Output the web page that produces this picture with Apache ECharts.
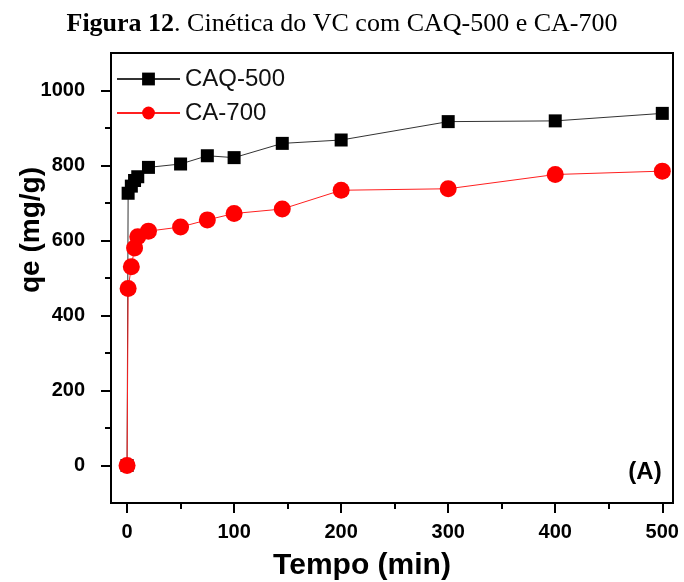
<!DOCTYPE html>
<html>
<head>
<meta charset="utf-8">
<script src="https://cdn.jsdelivr.net/npm/echarts@6/dist/echarts.min.js"></script>
<style>html,body{margin:0;padding:0;background:#fff;}#c{width:684px;height:582px;}</style>
</head>
<body>
<div id="c"></div>
<script>
// ---- data ----
var caqName = 'CAQ-500';
var caName = 'CA-700';
var caqTime = [0, 1, 4, 7, 10, 20, 50, 75, 100, 145, 200, 300, 400, 500];
var caqQe   = [0, 726, 745, 760, 770, 795, 804, 826, 821, 859, 868, 917, 919, 939];
var caTime  = [0, 1, 4, 7, 10, 20, 50, 75, 100, 145, 200, 300, 400, 500];
var caQe    = [0, 472, 530, 580, 610, 625, 636, 655, 672, 684, 734, 738, 776, 785];
var xTickMin = 0, xTickMax = 500, xTickStep = 100;   // labelled ticks 0..500
var yTickMin = 0, yTickMax = 1000, yTickStep = 200;  // labelled ticks 0..1000
var titleBold = 'Figura 12';
var titleRest = '. Cinética do VC com CAQ-500 e CA-700';
var xName = 'Tempo (min)';
var yName = 'qe (mg/g)';
var panelTag = '(A)';

function pairs(xs, ys){ return xs.map(function(x,i){ return [x, ys[i]]; }); }

var FONT = '"Liberation Sans", Arial, sans-serif';
var SERIF = '"Liberation Serif", "Times New Roman", serif';
var chart = echarts.init(document.getElementById('c'), null, {renderer:'canvas'});

// main plot geometry
var G = {left:111, top:53, right:11, bottom:79, w:684, h:582};
var X0 = -15, X1 = 510, Y0 = -100, Y1 = 1100;
var pw = G.w - G.left - G.right, ph = G.h - G.top - G.bottom;
function px(v){ return G.left + (v - X0) / (X1 - X0) * pw; }
function py(v){ return G.h - G.bottom - (v - Y0) / (Y1 - Y0) * ph; }

function tl(){ return {color:'#000', width:2}; }
function lab(margin){
  return {show:true, margin:margin, fontFamily:FONT, fontSize:20, fontWeight:'bold', color:'#000',
          formatter:function(v){ return String(v); }};
}

chart.setOption({
  backgroundColor:'#fff',
  animation:false,
  title:{
    left:'center', top:6,
    text:'{b|' + titleBold + '}{n|' + titleRest + '}',
    textStyle:{fontWeight:'normal', rich:{
      b:{fontFamily:SERIF, fontSize:26, fontWeight:'bold', color:'#000'},
      n:{fontFamily:SERIF, fontSize:26, fontWeight:'normal', color:'#000'}
    }}
  },
  grid:[
    {left:G.left, top:G.top, right:G.right, bottom:G.bottom, show:true, borderColor:'#000', borderWidth:2},
    {left:px(xTickMin), right:G.w - px(xTickMax), top:G.top, bottom:G.bottom, show:false},
    {left:G.left, right:G.right, top:py(yTickMax), bottom:G.h - py(yTickMin), show:false}
  ],
  legend:{
    orient:'vertical', left:111, top:62, itemWidth:63, itemHeight:16, itemGap:10,
    textStyle:{fontFamily:FONT, fontSize:24, color:'#111'},
    data:[caqName, caName]
  },
  xAxis:[
    {type:'value', gridIndex:0, min:X0, max:X1, position:'bottom',
     axisLine:{show:true, onZero:false, lineStyle:{color:'#000', width:2}},
     axisTick:{show:false}, axisLabel:{show:false}, splitLine:{show:false}},
    // labels: axis moved down with offset so its labels sit clear of the ticks
    {type:'value', gridIndex:1, min:xTickMin, max:xTickMax, interval:xTickStep, position:'bottom',
     offset:16, axisLine:{show:false, onZero:false}, axisTick:{show:false},
     axisLabel:lab(3), splitLine:{show:false}},
    {type:'value', gridIndex:2, show:false, min:0, max:1},
    // ticks
    {type:'value', gridIndex:1, min:xTickMin, max:xTickMax, interval:xTickStep, position:'bottom',
     axisLine:{show:false, onZero:false},
     axisTick:{show:true, inside:false, length:10, lineStyle:tl()},
     minorTick:{show:true, splitNumber:2, length:6, lineStyle:tl()},
     axisLabel:{show:false}, splitLine:{show:false}}
  ],
  yAxis:[
    {type:'value', gridIndex:0, min:Y0, max:Y1, position:'left',
     axisLine:{show:true, onZero:false, lineStyle:{color:'#000', width:2}},
     axisTick:{show:false}, axisLabel:{show:false}, splitLine:{show:false}},
    {type:'value', gridIndex:1, show:false, min:0, max:1},
    {type:'value', gridIndex:2, min:yTickMin, max:yTickMax, interval:yTickStep, position:'left',
     offset:23, axisLine:{show:false, onZero:false}, axisTick:{show:false},
     axisLabel:lab(3), splitLine:{show:false}},
    {type:'value', gridIndex:2, min:yTickMin, max:yTickMax, interval:yTickStep, position:'left',
     axisLine:{show:false, onZero:false},
     axisTick:{show:true, inside:false, length:10, lineStyle:tl()},
     minorTick:{show:true, splitNumber:2, length:6, lineStyle:tl()},
     axisLabel:{show:false}, splitLine:{show:false}}
  ],
  graphic:[
    {type:'text', x:362, y:566, style:{text:xName, font:'bold 30px ' + FONT, fill:'#000', align:'center', verticalAlign:'middle'}},
    {type:'text', x:31, y:230, rotation:Math.PI/2, style:{text:yName, font:'bold 28px ' + FONT, fill:'#000', align:'center', verticalAlign:'middle'}},
    {type:'text', x:645, y:472, style:{text:panelTag, font:'bold 24px ' + FONT, fill:'#000', align:'center', verticalAlign:'middle'}}
  ],
  series:[
    {name:caqName, type:'line', xAxisIndex:0, yAxisIndex:0, data:pairs(caqTime, caqQe),
     symbol:'rect', symbolSize:13, itemStyle:{color:'#000'}, lineStyle:{color:'#333', width:1}, z:2},
    {name:caName, type:'line', xAxisIndex:0, yAxisIndex:0, data:pairs(caTime, caQe),
     symbol:'circle', symbolSize:17, itemStyle:{color:'#ff0000'}, lineStyle:{color:'#ff2020', width:1}, z:3}
  ]
});
</script>
</body>
</html>
